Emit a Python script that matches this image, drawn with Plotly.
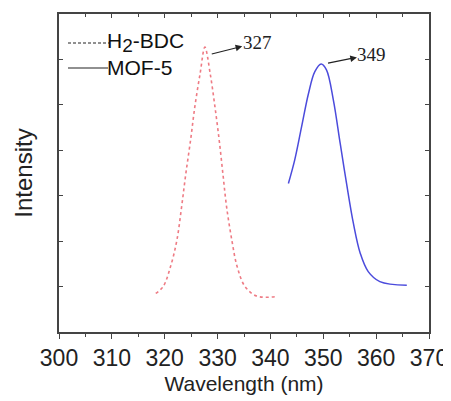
import plotly.graph_objects as go

# H2-BDC emission (dotted red)
bdc_x = [318.3, 319.7, 321.1, 322.3, 323.2, 324.0, 324.9, 325.7, 326.7, 327.6,
         328.6, 329.5, 330.3, 331.0, 331.7, 332.7, 333.7, 335.2, 337.4, 341.2]
bdc_y = [0.85, 1.00, 1.44, 2.02, 2.76, 3.49, 4.23, 4.96, 5.69, 6.27,
         5.69, 4.96, 4.23, 3.49, 2.76, 2.02, 1.44, 1.00, 0.79, 0.78]

# MOF-5 emission (solid blue)
mof_x = [343.4, 344.6, 345.9, 347.2, 348.4, 349.6, 350.6, 351.9, 353.2, 354.4,
         355.7, 357.0, 358.5, 360.7, 365.8]
mof_y = [3.27, 3.79, 4.52, 5.25, 5.73, 5.90, 5.77, 5.11, 4.15, 3.27,
         2.39, 1.73, 1.33, 1.11, 1.03]

x_ticks = [300, 310, 320, 330, 340, 350, 360, 370]
y_ticks = [1, 2, 3, 4, 5, 6]

peak_labels = ["327", "349"]

X0, X1, Y0, Y1 = 300, 370, 0, 7
OFF = 8  # page body margin
L, R, T, B = 59 - OFF, 22, 14 - OFF, 69
W, H = 451 - OFF, 401 - OFF
pw, ph = W - L - R, H - T - B

fig = go.Figure()
fig.add_trace(go.Scatter(x=bdc_x, y=bdc_y, mode="lines", line_shape="spline",
                         line=dict(color="#ee7b84", width=1.6, dash="dot"),
                         showlegend=False, hoverinfo="skip"))
fig.add_trace(go.Scatter(x=mof_x, y=mof_y, mode="lines", line_shape="spline",
                         line=dict(color="#4b4bdc", width=1.5),
                         showlegend=False, hoverinfo="skip"))
# helper for the top axis
fig.add_trace(go.Scatter(x=[X0, X1], y=[Y0, Y0], xaxis="x2", mode="lines",
                         line=dict(width=0), showlegend=False, hoverinfo="skip"))

axis_col = "#444444"
fig.update_layout(
    width=W, height=H, plot_bgcolor="white", paper_bgcolor="white",
    margin=dict(l=L, r=R, t=T, b=B, autoexpand=False),
    font=dict(family="Liberation Sans, Arial", color="#222222"),
    xaxis=dict(range=[X0, X1], tickvals=x_ticks, ticks="outside", ticklen=5,
               tickwidth=1.3, tickcolor=axis_col, showline=True, linecolor=axis_col,
               linewidth=1.5, showgrid=False, zeroline=False, automargin=False,
               tickfont=dict(size=23, color="#222222"),
               minor=dict(dtick=5, ticks="outside", ticklen=3, tickcolor=axis_col, tickwidth=1.2),
               title=dict(text="Wavelength (nm)", font=dict(size=21, color="#222222"), standoff=6)),
    xaxis2=dict(range=[X0, X1], overlaying="x", side="top", tickvals=x_ticks,
                ticks="inside", ticklen=4, tickwidth=1.3, tickcolor=axis_col,
                showticklabels=False, showline=True, linecolor=axis_col, linewidth=1.5,
                showgrid=False, zeroline=False, automargin=False,
                minor=dict(dtick=5, ticks="inside", ticklen=3, tickcolor=axis_col, tickwidth=1.2)),
    yaxis=dict(range=[Y0, Y1], tickvals=y_ticks, ticks="inside", ticklen=4,
               tickwidth=1.3, tickcolor=axis_col, showticklabels=False,
               showline=True, linecolor=axis_col, linewidth=1.5, mirror="ticks",
               showgrid=False, zeroline=False, automargin=False,
               title=dict(text="Intensity", font=dict(size=24, color="#222222"), standoff=18)),
)

# peak labels with arrows pointing from the peak to the label
tail = [(328.9, 6.12), (350.9, 5.92)]
text_pos = [(337.5, 6.37), (359.2, 6.11)]
for i, lab in enumerate(peak_labels):
    fig.add_annotation(x=tail[i][0], y=tail[i][1], ax=text_pos[i][0], ay=text_pos[i][1],
                       axref="x", ayref="y", text=lab, showarrow=True,
                       arrowside="start", startarrowhead=2, startarrowsize=1.1,
                       arrowwidth=1.2, arrowcolor="#222222", borderpad=0,
                       font=dict(family="Liberation Serif, Times New Roman", size=19, color="#222222"))

# custom legend (black line samples); screen pixel -> paper
def px2paper(px, py):
    return (px - OFF - L) / pw, (H - B - (py - OFF)) / ph

legend_items = [("H<sub><span style='font-size:19px'>2</span></sub>-BDC", "3px,2px", 43, 110),
                ("MOF-5", "solid", 68, 108)]
for txt, dash, py, xend in legend_items:
    a = px2paper(68, py)
    b = px2paper(xend, py)
    fig.add_shape(type="line", xref="paper", yref="paper", x0=a[0], y0=a[1], x1=b[0], y1=b[1],
                  line=dict(color="#222222", width=1.2, dash=dash))
    t = px2paper(105, py)
    fig.add_annotation(xref="paper", yref="paper", x=t[0], y=t[1], text=txt, showarrow=False,
                       xanchor="left", yanchor="middle", font=dict(size=21, color="#111111"))

fig.write_html("out.html")
